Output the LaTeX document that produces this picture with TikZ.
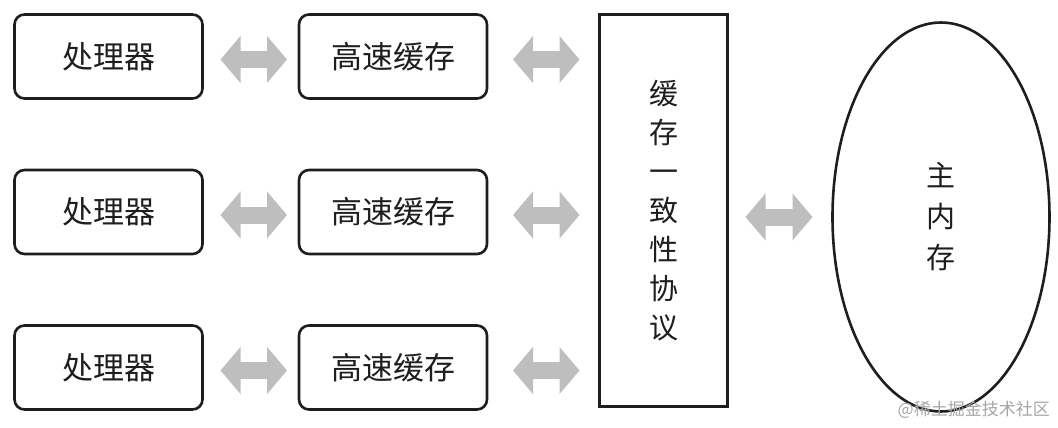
\documentclass[tikz,border=0pt]{standalone}
\usepackage{fontspec}
\newfontfamily\cjk{Noto Sans CJK SC}
\usetikzlibrary{arrows.meta,shapes.geometric}
\definecolor{arrowgray}{RGB}{190,190,190}
\definecolor{ink}{RGB}{30,30,30}
\begin{document}
\begin{tikzpicture}[x=1pt,y=-1pt,
  box/.style={draw=ink,text=ink,line width=2.6pt,rounded corners=10pt,minimum width=188pt,minimum height=84pt,inner sep=0pt,outer sep=0pt,font=\cjk\fontsize{31}{31}\selectfont},
  protobox/.style={draw=ink,text=ink,line width=2.6pt,minimum width=128pt,minimum height=392pt,inner sep=0pt,outer sep=0pt,align=center,font=\cjk\fontsize{29}{39}\selectfont},
  membox/.style={ellipse,draw=ink,text=ink,line width=2.6pt,minimum width=217pt,minimum height=389pt,inner sep=0pt,outer sep=0pt,align=center,font=\cjk\fontsize{29}{41}\selectfont},
  biarrow/.style={draw=arrowgray,line width=17pt,arrows={Triangle[length=20pt,width=46pt]-Triangle[length=20pt,width=46pt]}},
  wmark/.style={text=black!35,inner sep=0pt,font=\cjk\fontsize{17}{17}\selectfont}
]
\useasboundingbox (0,0) rectangle (1058,428);
\fill[white] (0,0) rectangle (1058,428);

\node[box] (p1) at (108.5,56.5) {处理器};
\node[box] (p2) at (108.5,212) {处理器};
\node[box] (p3) at (108.5,367.5) {处理器};
\node[box] (c1) at (393,56.5) {高速缓存};
\node[box] (c2) at (393,212) {高速缓存};
\node[box] (c3) at (393,367.5) {高速缓存};

\node[protobox] (proto) at (663.5,210.5) {缓\\存\\一\\致\\性\\协\\议};
\node[membox] (mem) at (941,217) {主\\内\\存};

\foreach \i in {1,2,3}{
  \draw[biarrow,shorten <=18pt,shorten >=12pt] ([yshift=-3pt]p\i.east) -- ([yshift=-3pt]c\i.west);
  \draw[biarrow,shorten <=26pt,shorten >=20pt] ([yshift=-3pt]c\i.east) -- ([yshift=-3pt]c\i.east -| proto.west);
}
\draw[biarrow,shorten <=18pt,shorten >=20pt] (proto.east |- mem.west) -- (mem.west);

\node[wmark,anchor=east] (wm) at (1050,410) {@稀土掘金技术社区};
\end{tikzpicture}
\end{document}
